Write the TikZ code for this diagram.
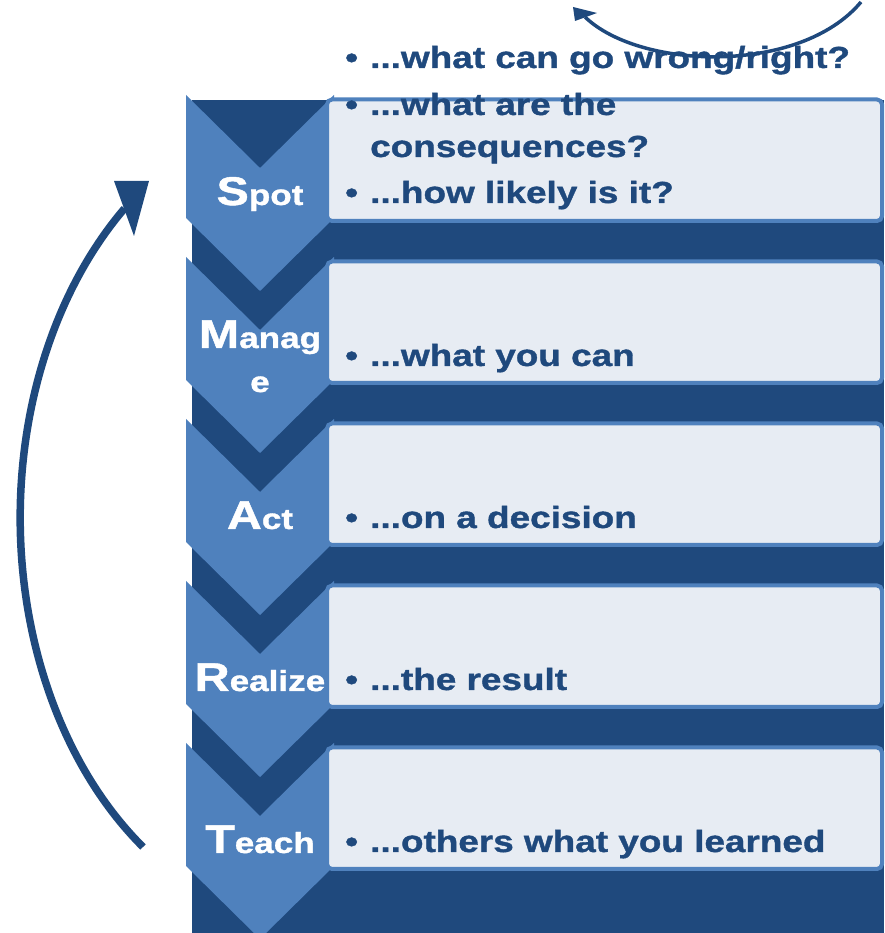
\documentclass[tikz,border=0pt]{standalone}
\usepackage{fontspec}
\newfontfamily\wf[FakeStretch=1.21,FakeBold=1.2]{Liberation Sans}
\definecolor{darkb}{RGB}{31,73,125}
\definecolor{lightb}{RGB}{79,129,189}
\definecolor{boxfill}{RGB}{231,236,243}
\tikzset{
  chev/.style={fill=lightb},
  tbox/.style={draw=lightb, line width=4pt, fill=boxfill, rounded corners=5pt},
  btxt/.style={inner sep=0pt, anchor=base west, text=darkb, font=\wf\bfseries\fontsize{30.5}{30.5}\selectfont},
  lbl/.style={inner sep=0pt, anchor=base, text=white, font=\wf\bfseries\fontsize{29}{29}\selectfont},
  cycarrow/.style={draw=darkb, line width=7.5pt},
  toparrow/.style={draw=darkb, line width=3.5pt},
  head/.style={fill=darkb}
}
\newcommand{\bigini}[1]{{\fontsize{40}{40}\selectfont #1}}
\begin{document}
\begin{tikzpicture}[x=1pt,y=1pt]
\useasboundingbox (0,0) rectangle (884,933);
% dark backdrop
\fill[darkb] (192,0) rectangle (884,833);
% chevrons
\foreach \i in {0,...,4}{
  \pgfmathsetmacro{\yt}{838-162*\i}
  \path[chev] (186,\yt) -- (260,\yt-73) -- (334,\yt) -- (334,\yt-123) -- (260,\yt-196) -- (186,\yt-123) -- cycle;
}
% text boxes
\foreach \i in {0,...,4}{
  \pgfmathsetmacro{\ya}{833.5-162*\i}
  \pgfmathsetmacro{\yb}{712-162*\i}
  \path[tbox] (327,\yb) rectangle (882,\ya);
}
% chevron labels
\node[lbl] (spot) at (260,728) {\bigini{S}pot};
\node[lbl] (manage1) at (260,585) {\bigini{M}anag};
\node[lbl] (manage2) at (260,541) {e};
\node[lbl] (act) at (260,404) {\bigini{A}ct};
\node[lbl] (realize) at (260,242) {\bigini{R}ealize};
\node[lbl] (teach) at (260,80) {\bigini{T}each};
% bullets and texts
\node[btxt] (b1) at (345,865) {•};
\node[btxt] (t1) at (370,865) {...what can go wrong/right?};
\node[btxt] (b2) at (345,818) {•};
\node[btxt] (t2) at (370,818) {...what are the};
\node[btxt] (t3) at (370,776) {consequences?};
\node[btxt] (b4) at (345,730) {•};
\node[btxt] (t4) at (370,730) {...how likely is it?};
\node[btxt] (b5) at (345,567) {•};
\node[btxt] (t5) at (370,567) {...what you can};
\node[btxt] (b6) at (345,405) {•};
\node[btxt] (t6) at (370,405) {...on a decision};
\node[btxt] (b7) at (345,243) {•};
\node[btxt] (t7) at (370,243) {...the result};
\node[btxt] (b8) at (345,81) {•};
\node[btxt] (t8) at (370,81) {...others what you learned};
% left cycle arrow
\draw[cycarrow] (143,86) arc[start angle=233.8, end angle=130.7, x radius=300, y radius=408];
\path[head] (149,752) -- (114,752) -- (134,697) -- cycle;
% top right arrow
\draw[toparrow] (861,931) .. controls (800,858) and (640,863) .. (585,916);
\path[head] (573,926) -- (597,920) -- (575,912) -- cycle;
\end{tikzpicture}
\end{document}
